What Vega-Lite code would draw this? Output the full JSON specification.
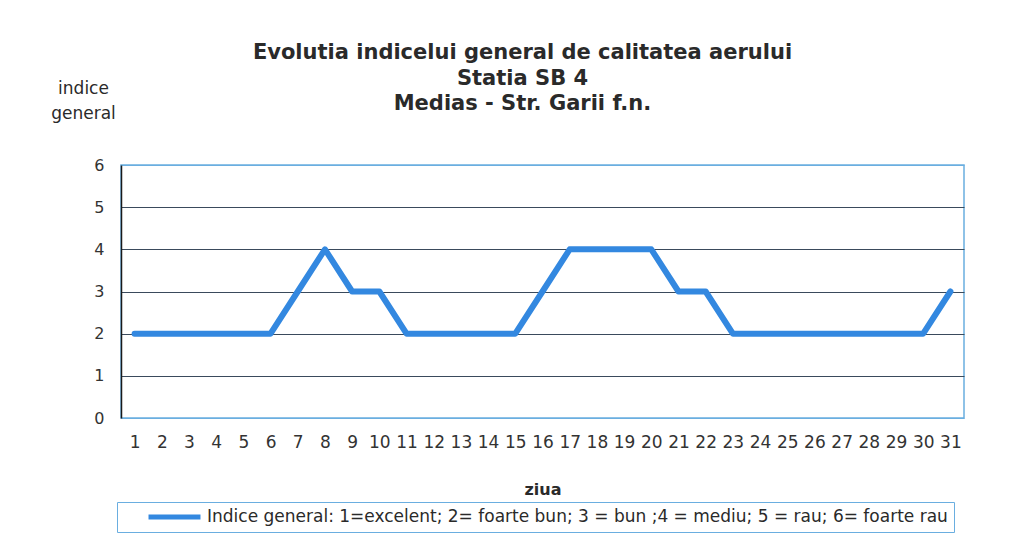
{
  "$schema": "https://vega.github.io/schema/vega-lite/v6.json",
  "width": 843,
  "height": 253,
  "autosize": {"type": "none"},
  "padding": {"left": 121, "top": 165, "right": 62, "bottom": 137},
  "background": "white",
  "title": {
    "text": ["Evolutia  indicelui general de calitatea aerului", "Statia SB 4", "Medias - Str. Garii  f.n."],
    "font": "DejaVu Sans",
    "fontSize": 21,
    "fontWeight": "bold",
    "color": "#2a2a2a",
    "lineHeight": 25.5,
    "anchor": "middle",
    "frame": "group",
    "dx": -20,
    "offset": -35
  },
  "data": {
    "values": [
      {"ziua": 1, "indice": 2}, {"ziua": 2, "indice": 2}, {"ziua": 3, "indice": 2}, {"ziua": 4, "indice": 2},
      {"ziua": 5, "indice": 2}, {"ziua": 6, "indice": 2}, {"ziua": 7, "indice": 3}, {"ziua": 8, "indice": 4},
      {"ziua": 9, "indice": 3}, {"ziua": 10, "indice": 3}, {"ziua": 11, "indice": 2}, {"ziua": 12, "indice": 2},
      {"ziua": 13, "indice": 2}, {"ziua": 14, "indice": 2}, {"ziua": 15, "indice": 2}, {"ziua": 16, "indice": 3},
      {"ziua": 17, "indice": 4}, {"ziua": 18, "indice": 4}, {"ziua": 19, "indice": 4}, {"ziua": 20, "indice": 4},
      {"ziua": 21, "indice": 3}, {"ziua": 22, "indice": 3}, {"ziua": 23, "indice": 2}, {"ziua": 24, "indice": 2},
      {"ziua": 25, "indice": 2}, {"ziua": 26, "indice": 2}, {"ziua": 27, "indice": 2}, {"ziua": 28, "indice": 2},
      {"ziua": 29, "indice": 2}, {"ziua": 30, "indice": 2}, {"ziua": 31, "indice": 3}
    ]
  },
  "mark": {"type": "line", "strokeWidth": 6, "strokeCap": "round", "strokeJoin": "round"},
  "encoding": {
    "x": {
      "field": "ziua",
      "type": "ordinal",
      "scale": {"type": "point", "padding": 0.5},
      "axis": {
        "title": "ziua",
        "labelAngle": 0,
        "labelPadding": 16,
        "labelFontSize": 17,
        "titlePadding": 31,
        "titleFontSize": 16,
        "titleFontWeight": "bold",
        "domain": false,
        "ticks": false,
        "grid": false
      }
    },
    "y": {
      "field": "indice",
      "type": "quantitative",
      "scale": {"domain": [0, 6], "nice": false},
      "axis": {
        "title": ["indice", "general"],
        "titleAngle": 0,
        "titleAlign": "center",
        "titleBaseline": "top",
        "titleX": -38,
        "titleY": -85,
        "titleFontWeight": "normal",
        "titleFontSize": 17,
        "titleLineHeight": 25,
        "values": [0, 1, 2, 3, 4, 5, 6],
        "ticks": false,
        "domain": true,
        "domainColor": "#1a1a1a",
        "domainWidth": 1.5,
        "labelPadding": 17,
        "labelFontSize": 16,
        "grid": true,
        "gridColor": {"condition": {"test": "datum.value == 0 || datum.value == 6", "value": "#6aaee0"}, "value": "#3a4a5c"},
        "gridOpacity": 1,
        "gridWidth": 1
      }
    },
    "color": {
      "datum": "Indice general: 1=excelent; 2= foarte bun; 3 = bun ;4 = mediu; 5 = rau; 6= foarte rau",
      "type": "nominal",
      "scale": {"range": ["#3388e0"]},
      "legend": {
        "title": null,
        "orient": "none",
        "legendX": -4,
        "legendY": 337,
        "padding": 6,
        "clipHeight": 18,
        "strokeColor": "#6aaee0",
        "symbolType": "stroke",
        "symbolStrokeWidth": 5,
        "symbolSize": 2700,
        "symbolOffset": 23,
        "labelOffset": 4,
        "labelFont": "DejaVu Sans",
        "labelFontSize": 17,
        "labelLimit": 1000,
        "labelColor": "#2a2a2a"
      }
    }
  },
  "config": {
    "font": "DejaVu Sans",
    "view": {"stroke": "#6aaee0", "strokeWidth": 1.5},
    "axis": {
      "labelFont": "DejaVu Sans",
      "labelColor": "#333333",
      "titleFont": "DejaVu Sans",
      "titleColor": "#2a2a2a"
    }
  }
}
